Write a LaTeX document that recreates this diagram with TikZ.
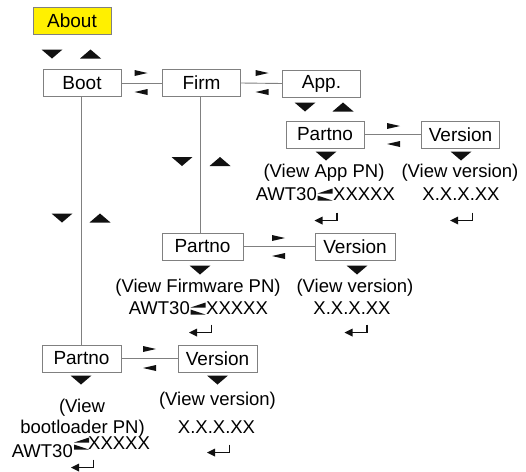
\documentclass[tikz,border=0pt]{standalone}
\usepackage{fontspec}
\setmainfont{Liberation Sans}
\definecolor{boxgray}{RGB}{128,128,128}
\definecolor{aboutyellow}{RGB}{255,240,0}
\definecolor{trik}{RGB}{17,17,17}
\tikzset{
  box/.style={draw=boxgray, line width=0.9pt, minimum width=78pt, minimum height=27pt,
    inner sep=0pt, font=\fontsize{19}{21}\selectfont},
  lbl/.style={font=\fontsize{18.5}{20}\selectfont, inner sep=0pt},
  link/.style={draw=boxgray, line width=0.9pt},
  pics/tdn/.style={code={\fill[trik] (-10.5,-4.5) -- (10.5,-4.5) -- (0,4.5) -- cycle;}},
  pics/tup/.style={code={\fill[trik] (-10.5,4.5) -- (10.5,4.5) -- (0,-4.5) -- cycle;}},
  pics/sright/.style={code={\fill[trik] (-6.5,-3) -- (6.5,0) -- (-6.5,3) -- cycle;}},
  pics/sleft/.style={code={\fill[trik] (6.5,-3) -- (-6.5,0) -- (6.5,3) -- cycle;}},
  pics/swap/.style={code={
    \fill[trik] (7.5,-6) -- (7.5,-1) -- (-7.5,-1) -- cycle;
    \fill[trik] (-7.5,1) -- (-7.5,6) -- (7.5,6) -- cycle;}},
  pics/retkey/.style={code={
    \draw[trik, line width=1.6pt] (11,-5.5) -- (11,2.5) -- (-4,2.5);
    \fill[trik] (-11.5,2.5) -- (-3.5,-1.5) -- (-3.5,6.5) -- cycle;}},
}
\begin{document}
\begin{tikzpicture}[x=1pt,y=-1pt]
\useasboundingbox (0,0) rectangle (526,471);
% boxes
\node[box, fill=aboutyellow] (about) at (72,20.5) {About};
\node[box] (boot) at (82,83) {Boot};
\node[box] (firm) at (201.5,83) {Firm};
\node[box] (app) at (321.5,83.5) {App.};
\node[box] (p1) at (325,134.5) {Partno};
\node[box] (v1) at (460.5,134.5) {Version};
\node[box, minimum width=81pt] (p2) at (202.5,246.5) {Partno};
\node[box, minimum width=80pt] (v2) at (355,246.5) {Version};
\node[box, minimum width=79pt] (p3) at (81.5,358.5) {Partno};
\node[box, minimum width=79pt] (v3) at (217.5,358.5) {Version};
% connectors
\draw[link] (boot.east) -- (firm.west);
\draw[link] (firm.east) -- (app.west);
\draw[link] (p1.east) -- (v1.west);
\draw[link] (p2.east) -- (v2.west);
\draw[link] (p3.east) -- (v3.west);
\coordinate (bootdown) at ([xshift=-1pt]boot.south);
\coordinate (firmdown) at ([xshift=-1pt]firm.south);
\draw[link] (bootdown) -- (bootdown |- p3.north);
\draw[link] (firmdown) -- (firmdown |- p2.north);
% big triangles
\pic at (52,54) {tdn}; \pic at (90.5,54) {tup};
\pic at (305,107) {tdn}; \pic at (343,107) {tup};
\pic at (182,161.5) {tdn}; \pic at (220,161.5) {tup};
\pic at (62,218) {tdn}; \pic at (100,218) {tup};
\pic at (326,156) {tdn}; \pic at (461,156) {tdn};
\pic at (200,270) {tdn}; \pic at (357,270) {tdn};
\pic at (81,380) {tdn}; \pic at (217.5,380) {tdn};
% small arrows
\pic at (141,73) {sright}; \pic at (141,92) {sleft};
\pic at (262,73) {sright}; \pic at (262,92) {sleft};
\pic at (393.5,126) {sright}; \pic at (393.5,144) {sleft};
\pic at (278.5,238) {sright}; \pic at (278.5,256) {sleft};
\pic at (149.5,349) {sright}; \pic at (149.5,368) {sleft};
% App part number
\node[lbl] (t1a) at (324,173) {(View App PN)};
\node[lbl, anchor=east] (t1b) at (317,194.5) {AWT30};
\node[lbl, anchor=west] (t1c) at (333,194.5) {XXXXX};
\pic at (325,194.5) {swap};
\pic at (326,218) {retkey};
\node[lbl] (t1d) at (460,173) {(View version)};
\node[lbl] (t1e) at (461,194.5) {X.X.X.XX};
\pic at (461.5,218) {retkey};
% Firmware part number
\node[lbl] (t2a) at (198,287.5) {(View Firmware PN)};
\node[lbl, anchor=east] (t2b) at (190,308.5) {AWT30};
\node[lbl, anchor=west] (t2c) at (206,308.5) {XXXXX};
\pic at (198,308.5) {swap};
\pic at (200.5,330) {retkey};
\node[lbl] (t2d) at (355,287.5) {(View version)};
\node[lbl] (t2e) at (352,308.5) {X.X.X.XX};
\pic at (356,330) {retkey};
% Bootloader part number
\node[lbl] (t3a) at (82,408) {(View};
\node[lbl] (t3b) at (82.5,429) {bootloader PN)};
\node[lbl, anchor=east] (t3c) at (73,451) {AWT30};
\node[lbl, anchor=west] (t3d) at (88,443.5) {XXXXX};
\pic at (81.5,443.5) {swap};
\pic at (82.5,465) {retkey};
\node[lbl] (t3e) at (217.5,401) {(View version)};
\node[lbl] (t3f) at (216.5,427) {X.X.X.XX};
\pic at (218.5,450) {retkey};
\end{tikzpicture}
\end{document}
